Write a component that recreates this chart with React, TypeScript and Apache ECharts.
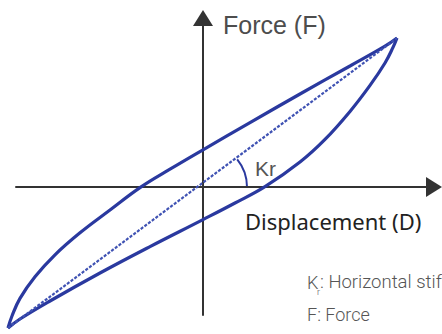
import React, { useEffect, useRef } from "react";
import * as echarts from "echarts";

// Hysteresis loop: displacement (D) vs force (F), arbitrary units
const upperD = [-97.5, -95.5, -91.5, -84, -74, -61.5, -46.5, -31.5, -16.5, 0, 23.5, 48.5, 73.5, 91, 97];
const upperF = [-70.5, -64.5, -55.7, -44.9, -33.9, -22.9, -11.5, -0.3, 8.9, 18.6, 32.2, 46.5, 60.5, 70.4, 74.5];
const lowerD = [-97.5, -91.5, -76.5, -51.5, -26.5, 0, 16, 31, 48.5, 61, 73.5, 83.5, 91, 95, 97];
const lowerF = [-70.5, -66, -57, -43, -29.8, -16.3, -8, 0.2, 12.5, 23.8, 37.8, 50.8, 62, 69.8, 74.5];
const secantD = [-97.5, 97];
const secantF = [-70.5, 74.5];

// plotting area (full canvas) and axis-arrow extents, same units
const plotX = [-101.5, 119.5];
const plotY = [-73.5, 93.5];
const axisX = [-93.5, 115.5];
const axisY = [-64, 84.5];

const BLUE = "#2a399f";

const zip = (a: number[], b: number[]) => a.map((v, i) => [v, b[i]]);

export default function App() {
  const ref = useRef<HTMLDivElement>(null);
  useEffect(() => {
    if (!ref.current) return;
    const chart = echarts.init(ref.current, undefined, { renderer: "svg" });
    const hidden = {
      type: "value" as const,
      show: false,
      splitLine: { show: false },
    };
    const axisCommon = {
      type: "value" as const,
      axisTick: { show: false },
      axisLabel: { show: false },
      splitLine: { show: false },
      axisLine: {
        onZero: true,
        symbol: ["none", "triangle"],
        symbolSize: [20, 16],
        lineStyle: { color: "#333", width: 2 },
      },
    };
    const lineCommon = {
      type: "line" as const,
      xAxisIndex: 0,
      yAxisIndex: 0,
      showSymbol: false,
      clip: false,
      z: 3,
    };
    chart.setOption({
      animation: false,
      grid: [
        { left: 0, right: 0, top: 0, bottom: 0 },
        { left: 16, right: 8, top: 18, bottom: 19 },
      ],
      xAxis: [
        { ...hidden, gridIndex: 0, min: plotX[0], max: plotX[1] },
        { ...axisCommon, gridIndex: 1, min: axisX[0], max: axisX[1] },
      ],
      yAxis: [
        { ...hidden, gridIndex: 0, min: plotY[0], max: plotY[1] },
        { ...axisCommon, gridIndex: 1, min: axisY[0], max: axisY[1] },
      ],
      series: [
        { ...lineCommon, data: zip(upperD, upperF), smooth: 0.4, lineStyle: { color: BLUE, width: 3.2 } },
        { ...lineCommon, data: zip(lowerD, lowerF), smooth: 0.4, lineStyle: { color: BLUE, width: 3.2 } },
        {
          ...lineCommon,
          data: zip(secantD, secantF),
          lineStyle: { color: "#3f52b3", width: 2.2, type: [3, 1.6] },
        },
      ],
    });
    const o = chart.convertToPixel({ gridIndex: 0 }, [0, 0]) as number[];
    const gray = "#555";
    chart.setOption({
      graphic: [
        {
          type: "arc",
          shape: { cx: o[0], cy: o[1], r: 44, startAngle: -0.68, endAngle: 0, clockwise: true },
          style: { stroke: BLUE, lineWidth: 2, fill: "none" },
        },
        {
          type: "text",
          style: { text: "Force (F)", x: 223, y: 25, font: "25px 'Liberation Sans', Arial, sans-serif", fill: "#4d4d4d", textVerticalAlign: "middle" },
        },
        {
          type: "text",
          style: { text: "Kr", x: 255, y: 168, font: "21px 'Liberation Sans', Arial, sans-serif", fill: gray, textVerticalAlign: "middle" },
        },
        {
          type: "text",
          style: { text: "Displacement (D)", x: 245, y: 221, font: "22px 'Noto Sans', sans-serif", fill: "#222", textVerticalAlign: "middle" },
        },
        {
          type: "text",
          style: { text: "K", x: 307, y: 282, font: "300 18px Roboto, sans-serif", fill: gray, textVerticalAlign: "middle" },
        },
        {
          type: "text",
          style: { text: "r", x: 317, y: 292, font: "300 9px Roboto, sans-serif", fill: gray, textVerticalAlign: "middle" },
        },
        {
          type: "text",
          style: { text: ": Horizontal stiffness", x: 320, y: 282, font: "300 18.5px Roboto, sans-serif", fill: gray, textVerticalAlign: "middle" },
        },
        {
          type: "text",
          style: { text: "F: Force", x: 307, y: 314, font: "300 18px Roboto, sans-serif", fill: gray, textVerticalAlign: "middle" },
        },
      ],
    });
    return () => chart.dispose();
  }, []);
  return <div ref={ref} style={{ width: 442, height: 334, position: "absolute", left: 0, top: 0 }} />;
}
